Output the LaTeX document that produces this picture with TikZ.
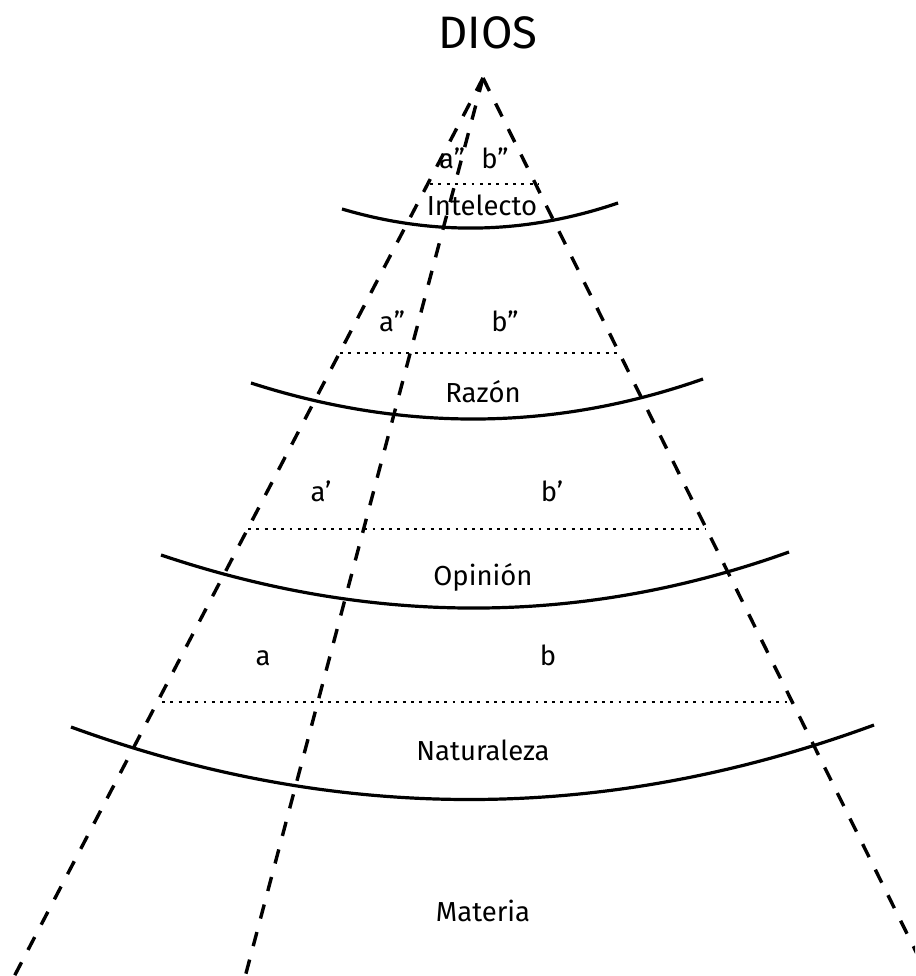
\documentclass[tikz,border=0pt]{standalone}
\usepackage{fontspec}
\setmainfont{Fira Sans}
\begin{document}
\begin{tikzpicture}[x=1pt,y=-1pt,
  lbl/.style={anchor=base,inner sep=0pt,font=\fontsize{27.5}{29}\selectfont},
  rayline/.style={line width=3.4pt,dash pattern=on 14.5pt off 14pt},
  levelarc/.style={line width=3.2pt},
  dotline/.style={line width=2.9pt,dash pattern=on 2.9pt off 5.4pt}]
\useasboundingbox (0,0) rectangle (915,976);
\clip (0,0) rectangle (915,976);
% apex and ray ends
\coordinate (apex) at (483,78);
\coordinate (endL) at (5,994);
\coordinate (endM) at (240,996);
\coordinate (endR) at (930,980);
\draw[rayline] (apex) -- (endL);
\draw[rayline] (apex) -- (endM);
\draw[rayline] (apex) -- (endR);
% arcs
\coordinate (i1) at (342,209); \coordinate (i2) at (618,203);
\coordinate (r1) at (251,383); \coordinate (r2) at (703,379);
\coordinate (o1) at (161,555); \coordinate (o2) at (789,552);
\coordinate (n1) at (71,727);  \coordinate (n2) at (874,725);
\draw[levelarc] (i1) .. controls (434,236.3) and (526,234.3) .. (i2);
\draw[levelarc] (r1) .. controls (404.3,432.3) and (555,431) .. (r2);
\draw[levelarc] (o1) .. controls (374.3,626.7) and (583.7,625.7) .. (o2);
\draw[levelarc] (n1) .. controls (338,824.3) and (605.7,823.7) .. (n2);
% dotted lines
\coordinate (d1a) at (430,184); \coordinate (d1b) at (538,184);
\coordinate (d2a) at (340,353); \coordinate (d2b) at (622,353);
\coordinate (d3a) at (248,529); \coordinate (d3b) at (706,529);
\coordinate (d4a) at (162,702); \coordinate (d4b) at (793,702);
\draw[dotline] (d1a) -- (d1b);
\draw[dotline] (d2a) -- (d2b);
\draw[dotline] (d3a) -- (d3b);
\draw[dotline] (d4a) -- (d4b);
% texts
\node[anchor=base,inner sep=0pt,font=\fontsize{45.5}{47}\selectfont] (dios) at (488,49) {DIOS};
\node[lbl] (a3) at (452,169) {a”};
\node[lbl] (b3) at (495,169) {b”};
\node[lbl] (intel) at (482,216) {Intelecto};
\node[lbl] (a2) at (392,331) {a”};
\node[lbl] (b2) at (505,331) {b”};
\node[lbl] (razon) at (483,402) {Razón};
\node[lbl] (a1) at (321,501) {a’};
\node[lbl] (b1) at (552,501) {b’};
\node[lbl] (opinion) at (483,585) {Opinión};
\node[lbl] (a0) at (263,665) {a};
\node[lbl] (b0) at (548,665) {b};
\node[lbl] (nat) at (483,760) {Naturaleza};
\node[lbl] (mat) at (483,921) {Materia};
\end{tikzpicture}
\end{document}
